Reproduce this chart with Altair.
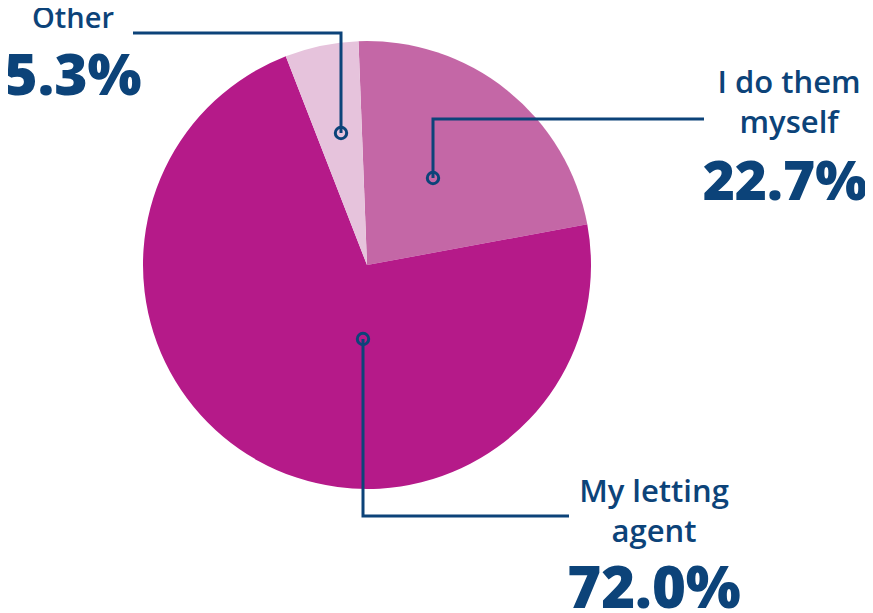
import math
import altair as alt
import pandas as pd

# ---- data ----
categories = ["I do them myself", "My letting agent", "Other"]
shares = [22.7, 72.0, 5.3]
slice_order = [0, 1, 2]
colors = ["#C467A6", "#B51A89", "#E6C3DC"]
name_lines = [["I do them", "myself"], ["My letting", "agent"], ["Other"]]
pct_labels = ["22.7%", "72.0%", "5.3%"]

# ---- layout ----
W, H = 857, 605
CX, CY, R = 359, 257, 224
START = -0.038
INK = "#0C4379"
FONT = "Open Sans"

pie_df = pd.DataFrame({"category": categories, "share": shares, "order": slice_order})

pie = alt.Chart(pie_df).mark_arc(outerRadius=R).encode(
    theta=alt.Theta("share:Q", stack=True,
                    scale=alt.Scale(range=[START, START + 2 * math.pi])),
    order=alt.Order("order:Q"),
    color=alt.Color("category:N",
                    scale=alt.Scale(domain=categories, range=colors), legend=None),
    x=alt.value(CX), y=alt.value(CY),
)

# leader lines (pixel layout of annotations)
leaders = {
    "Other": [(125, 25), (333, 25), (333, 125)],
    "I do them myself": [(696, 111), (425, 111), (425, 170)],
    "My letting agent": [(561, 508), (355, 508), (355, 331)],
}
rows = []
for k, pts in leaders.items():
    for i, (px, py) in enumerate(pts):
        rows.append({"leg": k, "seq": i, "px": px, "py": py})
lead_df = pd.DataFrame(rows)
end_df = pd.DataFrame([{"leg": k, "px": p[-1][0], "py": p[-1][1]} for k, p in leaders.items()])

lines = alt.Chart(lead_df).mark_line(color=INK, strokeWidth=3, strokeCap="butt",
                                     strokeJoin="miter").encode(
    x=alt.X("px:Q", scale=None, axis=None),
    y=alt.Y("py:Q", scale=None, axis=None),
    detail="leg:N",
    order="seq:Q",
)
dots = alt.Chart(end_df).mark_point(shape="circle", filled=False, size=130,
                                    stroke=INK, strokeWidth=3, opacity=1).encode(
    x=alt.X("px:Q", scale=None, axis=None),
    y=alt.Y("py:Q", scale=None, axis=None),
)

# text positions: (x center, baseline of first line, line step, pct x, pct baseline)
text_pos = {
    "I do them myself": (781, 85, 40, 777, 192),
    "My letting agent": (646, 494, 40, 646, 600),
    "Other": (65, 20, 0, 65, 87),
}
name_sizes = {"I do them myself": 31, "My letting agent": 31, "Other": 29}
pct_sizes = {"I do them myself": 55, "My letting agent": 58, "Other": 57}

layers = [pie, lines, dots]
for cat, lines_txt, pct in zip(categories, name_lines, pct_labels):
    tx, ty, step, px, py = text_pos[cat]
    for j, line in enumerate(lines_txt):
        layers.append(
            alt.Chart(pd.DataFrame({"t": [line]})).mark_text(
                font=FONT, fontSize=name_sizes[cat], fontWeight=600, color=INK,
                align="center", baseline="alphabetic"
            ).encode(text="t:N", x=alt.value(tx), y=alt.value(ty + j * step))
        )
    layers.append(
        alt.Chart(pd.DataFrame({"t": [pct]})).mark_text(
            font=FONT, fontSize=pct_sizes[cat], fontWeight=800, color=INK,
            align="center", baseline="alphabetic"
        ).encode(text="t:N", x=alt.value(px), y=alt.value(py))
    )

chart = alt.layer(*layers).properties(
    width=W, height=H, padding=0, autosize=alt.AutoSizeParams(type="none")
).configure_view(stroke=None)

chart.save("out.html", embed_options={"renderer": "svg", "actions": False})
